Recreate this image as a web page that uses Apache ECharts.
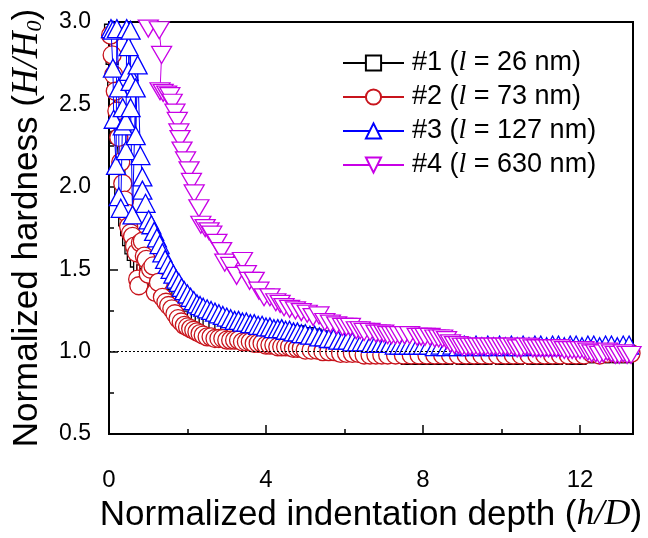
<!DOCTYPE html>
<html><head><meta charset="utf-8">
<script src="https://cdn.jsdelivr.net/npm/echarts@6/dist/echarts.min.js"></script>
<style>html,body{margin:0;padding:0;background:#fff}#c{width:648px;height:538px}</style>
</head><body><div id="c"></div>
<script>
// ---- data ----
const seriesNames = ['#1', '#2', '#3', '#4'];
const lengthsNm = ['26', '73', '127', '630'];
const xTickValues = [0, 4, 8, 12];
const yTickValues = [0.5, 1.0, 1.5, 2.0, 2.5, 3.0];

const s1Data = [[0.04,2.95],[0.08,2.78],[0.12,2.6],[0.16,2.45],[0.2,2.3],[0.25,2.12],[0.3,1.98],[0.35,1.88],[0.4,1.8],[0.45,1.74],[0.5,1.68],[0.56,1.63],[0.62,1.59],[0.7,1.55],[0.78,1.52],[0.86,1.49],[0.95,1.47],[1.05,1.45],[1.15,1.43],[1.25,1.41],[1.35,1.38],[1.45,1.34],[1.55,1.3],[1.65,1.28],[1.75,1.26],[1.85,1.24],[1.95,1.22],[2.05,1.21],[2.15,1.2],[2.25,1.19],[2.35,1.18],[2.45,1.18],[2.55,1.17],[2.7,1.17],[2.85,1.16],[3.0,1.16],[3.15,1.15],[3.3,1.15],[3.45,1.15],[3.6,1.14],[3.75,1.14],[3.9,1.14],[4.05,1.13],[4.2,1.13],[4.35,1.13],[4.5,1.12],[4.65,1.12],[4.8,1.12],[4.95,1.11],[5.1,1.11],[5.25,1.1],[5.4,1.09],[5.55,1.08],[5.7,1.06],[5.85,1.05],[6.0,1.04],[6.2,1.02],[6.4,1.01],[6.6,1.0],[6.8,0.99],[7.0,0.99],[7.2,0.98],[7.4,0.97],[7.6,0.96],[7.8,0.96],[8.0,0.96],[8.2,0.96],[8.4,0.96],[8.6,0.96],[8.8,0.97],[9.0,0.96],[9.2,0.96],[9.4,0.96],[9.6,0.96],[9.8,0.97],[10.0,0.96],[10.2,0.96],[10.4,0.96],[10.6,0.97],[10.8,0.96],[11.0,0.96],[11.2,0.96],[11.4,0.96],[11.6,0.97],[11.8,0.96],[12.0,0.96],[12.2,0.97],[12.4,0.97],[12.6,0.97],[12.8,0.97],[13.0,0.97],[13.2,0.97]];

const s2Data = [[0.04,2.92],[0.08,2.8],[0.12,2.68],[0.16,2.58],[0.2,2.46],[0.25,2.3],[0.3,2.15],[0.35,2.02],[0.4,1.92],[0.45,1.84],[0.5,1.76],[0.55,1.72],[0.6,1.7],[0.65,1.64],[0.7,1.6],[0.73,1.44],[0.76,1.4],[0.8,1.66],[0.85,1.67],[0.9,1.58],[0.95,1.56],[1.0,1.47],[1.06,1.5],[1.12,1.52],[1.18,1.36],[1.26,1.42],[1.36,1.33],[1.45,1.3],[1.52,1.28],[1.6,1.26],[1.68,1.23],[1.76,1.2],[1.84,1.18],[1.92,1.16],[2.0,1.15],[2.08,1.14],[2.16,1.13],[2.24,1.12],[2.32,1.11],[2.4,1.1],[2.5,1.09],[2.6,1.09],[2.7,1.08],[2.8,1.08],[2.9,1.08],[3.0,1.07],[3.1,1.07],[3.2,1.07],[3.3,1.07],[3.4,1.06],[3.5,1.06],[3.6,1.06],[3.7,1.05],[3.8,1.05],[3.9,1.05],[4.0,1.04],[4.1,1.04],[4.2,1.04],[4.3,1.03],[4.4,1.03],[4.5,1.03],[4.6,1.03],[4.7,1.02],[4.8,1.02],[4.9,1.02],[5.0,1.01],[5.15,1.01],[5.3,1.01],[5.45,1.0],[5.6,1.0],[5.75,1.0],[5.9,0.99],[6.05,0.99],[6.2,0.99],[6.35,0.99],[6.5,0.98],[6.65,0.98],[6.8,0.98],[6.95,0.98],[7.1,0.98],[7.3,0.98],[7.5,0.98],[7.7,0.98],[7.9,0.98],[8.1,0.98],[8.3,0.98],[8.5,0.98],[8.7,0.98],[8.9,0.98],[9.1,0.98],[9.3,0.98],[9.5,0.98],[9.7,0.98],[9.9,0.98],[10.1,0.98],[10.3,0.98],[10.5,0.98],[10.7,0.98],[10.9,0.98],[11.1,0.98],[11.3,0.98],[11.5,0.98],[11.7,0.98],[11.9,0.98],[12.1,0.98],[12.3,0.99],[12.5,0.98],[12.7,0.99],[12.9,0.99],[13.1,0.99],[13.3,0.99]];

const s3Data = [[0.05,2.96],[0.1,2.95],[0.1,2.72],[0.12,2.41],[0.18,2.13],[0.2,2.96],[0.25,2.6],[0.25,1.94],[0.3,1.87],[0.35,2.48],[0.35,2.37],[0.43,2.4],[0.43,2.22],[0.45,2.96],[0.5,2.85],[0.5,2.7],[0.55,2.95],[0.55,2.64],[0.55,2.48],[0.6,1.83],[0.68,2.6],[0.68,2.31],[0.73,2.74],[0.8,2.19],[0.85,2.06],[0.85,1.98],[0.93,1.9],[1.01,1.8],[1.08,1.77],[1.15,1.73],[1.22,1.69],[1.29,1.65],[1.36,1.6],[1.43,1.56],[1.5,1.53],[1.57,1.5],[1.64,1.47],[1.71,1.44],[1.78,1.42],[1.85,1.39],[1.92,1.37],[2.0,1.35],[2.08,1.33],[2.16,1.31],[2.24,1.29],[2.32,1.28],[2.4,1.27],[2.5,1.26],[2.6,1.25],[2.7,1.24],[2.8,1.23],[2.9,1.22],[3.0,1.21],[3.1,1.2],[3.2,1.19],[3.3,1.19],[3.4,1.18],[3.5,1.18],[3.6,1.17],[3.7,1.17],[3.8,1.16],[3.9,1.16],[4.0,1.15],[4.1,1.15],[4.2,1.14],[4.3,1.14],[4.4,1.14],[4.5,1.13],[4.6,1.13],[4.7,1.12],[4.8,1.12],[4.9,1.11],[5.0,1.11],[5.12,1.1],[5.24,1.1],[5.36,1.09],[5.48,1.09],[5.6,1.08],[5.72,1.08],[5.84,1.07],[5.96,1.07],[6.08,1.07],[6.2,1.06],[6.32,1.06],[6.44,1.06],[6.56,1.06],[6.68,1.05],[6.8,1.05],[6.92,1.05],[7.04,1.05],[7.16,1.05],[7.28,1.04],[7.4,1.04],[7.52,1.04],[7.64,1.04],[7.76,1.04],[7.88,1.04],[8.0,1.04],[8.15,1.04],[8.3,1.03],[8.45,1.04],[8.6,1.03],[8.75,1.04],[8.9,1.03],[9.05,1.04],[9.2,1.03],[9.35,1.04],[9.5,1.03],[9.65,1.04],[9.8,1.03],[9.95,1.04],[10.1,1.03],[10.25,1.04],[10.4,1.03],[10.55,1.04],[10.7,1.03],[10.85,1.04],[11.0,1.04],[11.15,1.03],[11.3,1.04],[11.45,1.04],[11.6,1.03],[11.75,1.04],[11.9,1.04],[12.05,1.03],[12.2,1.04],[12.35,1.04],[12.5,1.03],[12.65,1.04],[12.8,1.04],[12.95,1.03],[13.1,1.04],[13.25,1.04]];

const s4Data = [[0.8,3.15],[1.0,2.96],[1.28,2.95],[1.34,2.8],[1.3,2.58],[1.38,2.57],[1.47,2.56],[1.55,2.55],[1.61,2.51],[1.68,2.45],[1.74,2.4],[1.78,2.33],[1.81,2.29],[1.86,2.22],[1.95,2.16],[2.04,2.1],[2.1,2.03],[2.17,1.96],[2.29,1.87],[2.34,1.77],[2.45,1.75],[2.55,1.73],[2.62,1.71],[2.75,1.66],[2.87,1.61],[2.95,1.54],[3.1,1.52],[3.25,1.46],[3.4,1.55],[3.5,1.47],[3.58,1.43],[3.7,1.43],[3.82,1.37],[3.95,1.33],[4.1,1.33],[4.25,1.3],[4.36,1.29],[4.46,1.27],[4.6,1.26],[4.75,1.25],[4.9,1.24],[5.05,1.23],[5.2,1.21],[5.35,1.22],[5.5,1.18],[5.64,1.17],[5.8,1.16],[5.95,1.15],[6.05,1.15],[6.15,1.15],[6.3,1.13],[6.4,1.13],[6.5,1.12],[6.65,1.12],[6.8,1.11],[6.9,1.11],[7.0,1.11],[7.1,1.1],[7.2,1.1],[7.3,1.1],[7.4,1.1],[7.53,1.1],[7.66,1.1],[7.85,1.09],[7.95,1.09],[8.05,1.09],[8.18,1.09],[8.3,1.08],[8.4,1.08],[8.5,1.08],[8.6,1.07],[8.7,1.05],[8.8,1.04],[8.9,1.04],[9.0,1.03],[9.1,1.03],[9.2,1.03],[9.3,1.03],[9.4,1.03],[9.5,1.03],[9.6,1.03],[9.7,1.03],[9.8,1.03],[9.9,1.03],[10.0,1.03],[10.1,1.03],[10.2,1.03],[10.3,1.03],[10.4,1.02],[10.5,1.02],[10.6,1.03],[10.7,1.03],[10.8,1.02],[10.9,1.02],[11.0,1.02],[11.1,1.02],[11.2,1.02],[11.3,1.02],[11.4,1.02],[11.5,1.02],[11.6,1.01],[11.7,1.01],[11.8,1.01],[11.9,1.01],[12.0,1.01],[12.1,1.01],[12.2,1.0],[12.3,0.99],[12.4,0.99],[12.5,0.98],[12.6,0.99],[12.7,1.0],[12.8,0.99],[12.9,0.98],[13.0,0.98],[13.1,0.99],[13.2,0.98],[13.3,0.98]];

const referenceLevel = 1.0;

// ---- chart ----
const colors = ['#000000', '#c8141c', '#0000ff', '#c800e6'];
const symbols = ['rect', 'circle', 'triangle', 'triangle'];
const symbolSizes = [12, 18, [19, 18], [20, 17]];
const rotations = [0, 0, 0, 180];
const allData = [s1Data, s2Data, s3Data, s4Data];

const chart = echarts.init(document.getElementById('c'), null, {renderer: 'canvas'});
const sans = 'Liberation Sans, Arial, sans-serif';
const serif = 'Liberation Serif, Times New Roman, serif';

const series = allData.map((d, i) => ({
  name: seriesNames[i],
  type: 'line',
  data: d,
  symbol: symbols[i],
  symbolSize: symbolSizes[i],
  symbolRotate: rotations[i],
  showAllSymbol: true,
  clip: true,
  lineStyle: {color: colors[i], width: 1},
  itemStyle: {color: '#fff', borderColor: colors[i], borderWidth: 1.3},
  z: 2 + i
}));
series.push({
  type: 'line', data: [], silent: true, z: 10,
  markLine: {
    silent: true, symbol: 'none', animation: false,
    label: {show: false},
    lineStyle: {color: '#000', width: 1, type: [2, 2]},
    data: [{yAxis: referenceLevel}]
  }
});

chart.setOption({
  animation: false,
  backgroundColor: '#fff',
  grid: {left: 103, right: 15, top: 22, bottom: 88, show: true, borderColor: '#000', borderWidth: 2, backgroundColor: 'transparent'},
  legend: {
    data: seriesNames,
    orient: 'vertical', left: 342, top: 49, padding: 0,
    itemWidth: 61, itemHeight: 19, itemGap: 6,
    formatter: (name) => {
      const i = seriesNames.indexOf(name);
      return '{n|' + name + ' (}{i|l}{n| = ' + lengthsNm[i] + ' nm)}';
    },
    textStyle: {
      fontFamily: sans, fontSize: 27, color: '#000', lineHeight: 27, padding: [0, 0, 0, 3],
      rich: {
        n: {fontFamily: sans, fontSize: 27, color: '#000', lineHeight: 27},
        i: {fontFamily: serif, fontStyle: 'italic', fontSize: 28, color: '#000', lineHeight: 27}
      }
    }
  },
  xAxis: {
    type: 'value', min: 0, max: 13.35, interval: 4,
    name: '{n|Normalized indentation depth (}{i|h/D}{n|)}',
    nameLocation: 'middle', nameGap: 62,
    nameTextStyle: {
      rich: {
        n: {fontFamily: sans, fontSize: 35, color: '#000'},
        i: {fontFamily: serif, fontStyle: 'italic', fontSize: 36, color: '#000'}
      }
    },
    axisLine: {show: true, lineStyle: {color: '#000', width: 2}},
    axisTick: {show: true, inside: true, length: 9, lineStyle: {color: '#000', width: 1.5}},
    minorTick: {show: true, splitNumber: 2, length: 5, lineStyle: {color: '#000', width: 1.5}},
    splitLine: {show: false},
    axisLabel: {
      color: '#000', fontFamily: sans, fontSize: 24, margin: 34,
      showMaxLabel: false,
      formatter: (v) => (xTickValues.indexOf(v) >= 0 ? String(v) : '')
    }
  },
  yAxis: {
    type: 'value', min: 0.5, max: 3.0, interval: 0.5,
    name: '{n|Normalized hardness (}{i|H/H}{s|0}{n|)}',
    nameLocation: 'middle', nameGap: 62, nameRotate: 90,
    nameTextStyle: {
      rich: {
        n: {fontFamily: sans, fontSize: 35, color: '#000', lineHeight: 40},
        i: {fontFamily: serif, fontStyle: 'italic', fontSize: 37, color: '#000', lineHeight: 40},
        s: {fontFamily: serif, fontStyle: 'italic', fontSize: 22, color: '#000', lineHeight: 40, padding: [16, 0, 0, 0]}
      }
    },
    axisLine: {show: true, lineStyle: {color: '#000', width: 2}},
    axisTick: {show: true, inside: true, length: 9, lineStyle: {color: '#000', width: 1.5}},
    minorTick: {show: true, splitNumber: 2, length: 5, lineStyle: {color: '#000', width: 1.5}},
    splitLine: {show: false},
    axisLabel: {
      color: '#000', fontFamily: sans, fontSize: 23, margin: 18,
      formatter: (v) => (yTickValues.indexOf(Math.round(v * 10) / 10) >= 0 ? v.toFixed(1) : '')
    }
  },
  series: series
});
</script>
</body></html>
